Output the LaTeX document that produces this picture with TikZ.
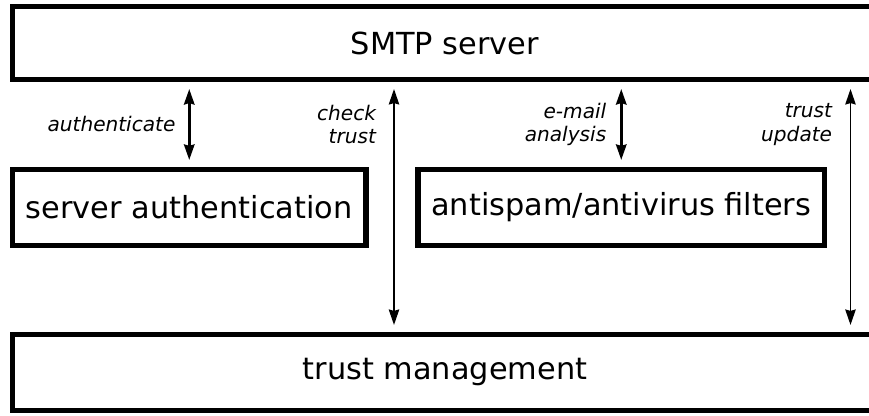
\documentclass[tikz,border=0pt]{standalone}
\usepackage{fontspec}
\setmainfont{DejaVu Sans}
\usetikzlibrary{arrows.meta,positioning}

\begin{document}
\begin{tikzpicture}[
		block/.style={draw, line width=3.6pt, inner sep=0pt, font=\fontsize{21.6}{26}\selectfont},
		flow/.style={{Stealth[length=11pt,width=7.4pt,inset=1pt]}-{Stealth[length=11pt,width=7.4pt,inset=1pt]}, shorten <=0.175cm, shorten >=0.175cm},
		note/.style={inner sep=0pt, align=right, font=\fontsize{14.3}{17}\selectfont\itshape}
	]
		%%%%% START %%%%%
		\useasboundingbox (0, 0) rectangle (21.725, 10.4);
		
		\node[block, minimum width=21.625cm, minimum height=1.825cm] (smtp) at (11.125, 9.325) {SMTP server};
		\node[block, minimum width=8.8375cm, minimum height=1.9cm] (auth) at (4.73125, 5.2125) {server authentication};
		\node[block, minimum width=10.1625cm, minimum height=1.9cm] (filter) at (15.53125, 5.2125) {antispam/antivirus filters};
		\node[block, minimum width=21.625cm, minimum height=1.9cm] (trust) at (11.125, 1.0875) {trust management};
		
		\coordinate (check) at (9.85, 0);
		\coordinate (update) at (21.2625, 0);
		
		\draw[flow, line width=2pt] (smtp.south -| auth) -- node[note, left=0.31cm] {authenticate} (auth.north);
		\draw[flow, line width=2pt] (smtp.south -| filter) -- node[note, left=0.34cm] {e-mail\\analysis} (filter.north);
		\draw[flow, line width=1.2pt] (smtp.south -| check) -- node[note, pos=0.17, left=0.43cm] {check\\trust} (trust.north -| check);
		\draw[flow, line width=1.2pt] (smtp.south -| update) -- node[note, pos=0.17, left=0.44cm] {trust\\update} (trust.north -| update);
		%%%%% END %%%%%
	\end{tikzpicture}
\end{document}
